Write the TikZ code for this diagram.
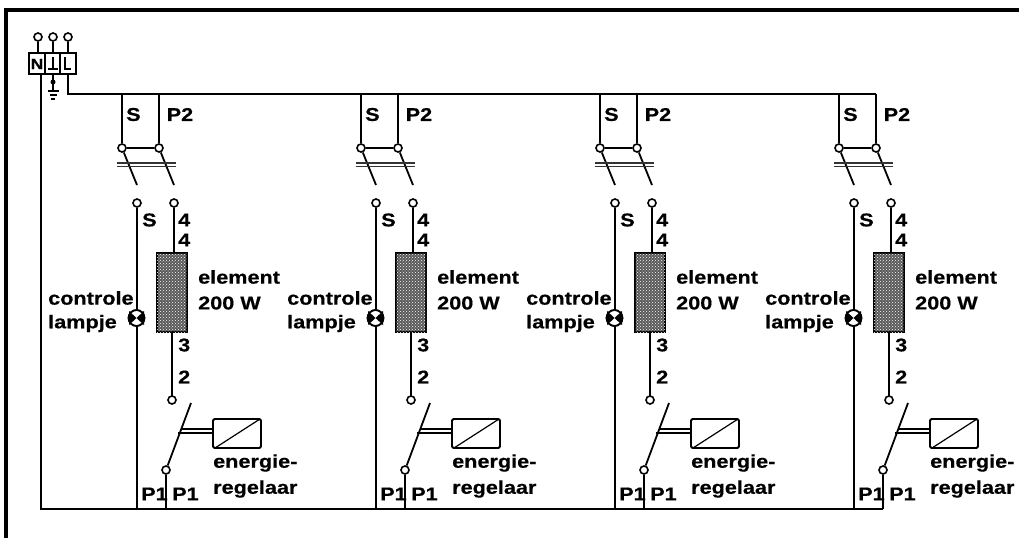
\documentclass[tikz,border=0pt]{standalone}
\usepackage{fontspec}
\setmainfont[FakeStretch=1.17, BoldFeatures={FakeStretch=1.17, FakeBold=0.5}]{Liberation Sans}
\usetikzlibrary{patterns}
\tikzset{
	wire/.style={line width=1.8pt},
	lbl/.style={font=\fontsize{18.5}{20}\selectfont\bfseries, inner sep=0pt, anchor=west, align=left},
	term/.style={circle, draw, line width=1.6pt, fill=white, minimum size=8pt, inner sep=0pt}
}
\begin{document}
\begin{tikzpicture}[x=1pt, y=-1pt]
		\useasboundingbox (0, 0) rectangle (1019, 538);
		\fill (4, 8) rectangle (1019, 12);
		\fill (4, 8) rectangle (8, 538);
		
		% mains block
		\node[term] (n0) at (38, 37) {};
		\node[term] (e0) at (53, 37) {};
		\node[term] (l0) at (68, 37) {};
		\draw[wire] (n0) -- (38, 53);
		\draw[wire] (e0) -- (53, 53);
		\draw[wire] (l0) -- (68, 53);
		\draw[line width=1.5pt] (29, 53) rectangle (76, 74);
		\draw[line width=1.5pt] (45, 53) -- (45, 74);
		\draw[line width=1.5pt] (60, 53) -- (60, 74);
		\node[font=\fontsize{15}{15}\selectfont\bfseries, inner sep=0pt] at (37, 64) {N};
		\draw[wire] (65, 57) -- (65, 69) -- (71, 69);
		\draw[wire] (48, 69) -- (58, 69);
		\draw[wire] (53, 57) -- (53, 69);
		\draw[wire] (53, 74) -- (53, 90);
		\fill (53, 82) circle (2.5);
		\draw[wire] (48, 91) -- (59, 91);
		\draw[wire] (50, 95) -- (57, 95);
		\draw[wire] (51, 99) -- (55, 99);
		
		% bus lines
		\draw[wire] (68, 74) -- (68, 94) -- (876, 94);
		\draw[wire] (41, 74) -- (41, 509) -- (883, 509);
		
		\foreach \i in {0,1,2,3} {
			\begin{scope}[xshift=\i*239]
				% fuse pair
				\node[term] (f1) at (122, 148) {};
				\node[term] (f2) at (159, 148) {};
				\draw[wire] (122, 94) -- (f1);
				\draw[wire] (159, 94) -- (f2);
				\draw[wire] (f1) -- (f2);
				\draw[wire] (f1) -- (137, 185);
				\draw[wire] (f2) -- (174, 185);
				\draw[line width=1.5pt, black!80] (117, 163) -- (176, 163);
				\draw[line width=1.5pt, black!80] (117, 166.5) -- (176, 166.5);
				\node[lbl] at (126, 114.5) {S};
				\node[lbl] at (166.5, 114.5) {P2};
				
				% lamp branch
				\node[term] (s1) at (137, 203) {};
				\draw[wire] (s1) -- (137, 509);
				\draw[line width=1.6pt, fill=white] (136.5, 318) circle (8);
				\fill (136.5, 318) -- (129, 311) -- (129, 325) -- cycle;
				\fill (136.5, 318) -- (144, 311) -- (144, 325) -- cycle;
				\draw[line width=1.6pt] (136.5, 318) circle (8);
				\node[lbl] at (142, 220) {S};
				\node[lbl] at (48, 298) {controle};
				\node[lbl] at (48, 323.5) {lampje};
				
				% heating element
				\node[term] (s2) at (174, 203) {};
				\draw[wire] (s2) -- (174, 253);
				\draw[line width=1.6pt, fill=black!65, postaction={pattern=crosshatch dots, pattern color=white}] (157, 253) rectangle (187, 332);
				\draw[wire] (172, 332) -- (172, 396);
				\node[term] (r1) at (172, 400) {};
				\node[lbl] at (178, 220) {4};
				\node[lbl] at (178, 240) {4};
				\node[lbl] at (178, 345) {3};
				\node[lbl] at (178, 377) {2};
				\node[lbl] at (198, 277) {element};
				\node[lbl] at (198, 303) {200 W};
				
				% energy regulator
				\node[term] (r2) at (166, 470) {};
				\draw[wire] (r2) -- (191, 403);
				\draw[wire] (r2) -- (166, 509);
				\draw[wire] (181, 429) -- (213, 429);
				\draw[wire] (178, 433) -- (213, 433);
				\draw[wire, rounded corners=1.5pt] (213, 419) rectangle (261, 448);
				\draw[line width=1.2pt] (215, 448) -- (260, 419);
				\node[lbl] at (141, 494) {P1};
				\node[lbl] at (172, 494) {P1};
				\node[lbl] at (213, 463) {energie-};
				\node[lbl] at (213, 489) {regelaar};
			\end{scope}
		}
	\end{tikzpicture}
\end{document}
